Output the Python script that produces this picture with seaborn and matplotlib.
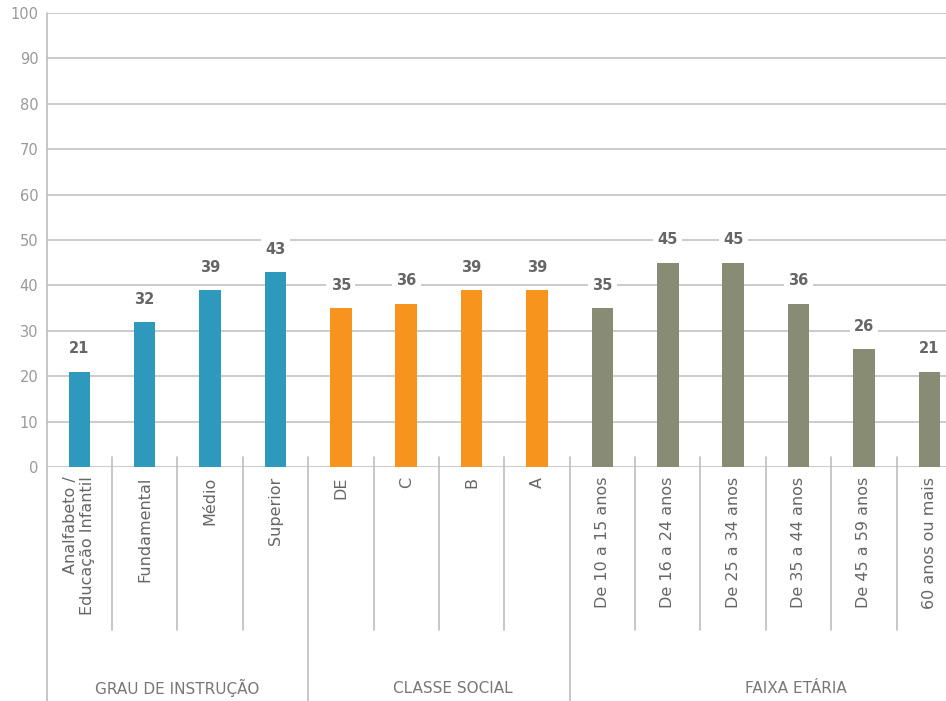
import matplotlib
matplotlib.use("Agg")
import matplotlib.pyplot as plt
from matplotlib.transforms import blended_transform_factory
import pandas as pd
import seaborn as sns

# --- data -------------------------------------------------------------
categories = [
    "Analfabeto /\nEducação Infantil", "Fundamental", "Médio", "Superior",
    "DE", "C", "B", "A",
    "De 10 a 15 anos", "De 16 a 24 anos", "De 25 a 34 anos",
    "De 35 a 44 anos", "De 45 a 59 anos", "60 anos ou mais",
]
values = [21, 32, 39, 43, 35, 36, 39, 39, 35, 45, 45, 36, 26, 21]
group_names = ["GRAU DE INSTRUÇÃO", "CLASSE SOCIAL", "FAIXA ETÁRIA"]
group_sizes = [4, 4, 6]
y_ticks = [0, 10, 20, 30, 40, 50, 60, 70, 80, 90, 100]

groups = [g for g, n in zip(group_names, group_sizes) for _ in range(n)]
df = pd.DataFrame({"categoria": categories, "valor": values, "grupo": groups})

palette = {
    "GRAU DE INSTRUÇÃO": "#2E99BC",
    "CLASSE SOCIAL": "#F7941E",
    "FAIXA ETÁRIA": "#898C75",
}

# --- figure -----------------------------------------------------------
sns.set_style("white")
plt.rcParams["font.family"] = ["DejaVu Sans"]

W, H = 946, 701
fig = plt.figure(figsize=(W / 100, H / 100), dpi=100)
ax_left, ax_right, ax_top, ax_bottom = 46.6, 962.0, 13.0, 467.0
ax = fig.add_axes([ax_left / W, (H - ax_bottom) / H,
                   (ax_right - ax_left) / W, (ax_bottom - ax_top) / H])

sns.barplot(data=df, x="categoria", y="valor", hue="grupo", palette=palette,
            dodge=False, width=0.33, saturation=1, legend=False, ax=ax,
            linewidth=0, edgecolor="none", zorder=2)

ax.set_xlim(-0.5, len(categories) - 0.5)
ax.set_ylim(0, 100)
ax.set_yticks(y_ticks)
ax.yaxis.grid(True, color="#BDBDBD", linewidth=1.1)
ax.set_axisbelow(True)
for s in ax.spines.values():
    s.set_visible(False)

ax.set_xlabel("")
ax.set_ylabel("")
ax.tick_params(axis="y", length=0, pad=6, labelsize=10.5, labelcolor="#999999")
ax.tick_params(axis="x", length=0, pad=7, labelsize=11.5, labelcolor="#666666")
ax.set_xticks(range(len(categories)))
ax.set_xticklabels(categories, rotation=90)
for lab in ax.get_xticklabels():
    lab.set_multialignment("right")

# value labels above each bar
for i, v in enumerate(values):
    ax.text(i, v + 5, f"{v}", ha="center", va="center", fontsize=10.5,
            fontweight="bold", color="#666666", zorder=4,
            bbox=dict(facecolor="white", edgecolor="none", pad=3))

# category / group separators below the axis
trans = blended_transform_factory(ax.transData, ax.transAxes)
sep_color = "#BDBDBD"
boundaries = [0]
for n in group_sizes:
    boundaries.append(boundaries[-1] + n)
for b in range(1, len(categories)):
    x = b - 0.5
    y_end = -0.53 if b in boundaries else -0.359
    ax.plot([x, x], [0.022, y_end], transform=trans, color=sep_color,
            lw=1.2, clip_on=False, zorder=1)
ax.plot([-0.5, -0.5], [1.0, -0.53], transform=trans, color=sep_color,
        lw=1.2, clip_on=False, zorder=1)

# group names
group_label_x = [1.49, 5.72, 10.96]
for name, gx in zip(group_names, group_label_x):
    ax.text(gx, -0.487, name, transform=trans, ha="center", va="center",
            fontsize=11, color="#777777")

fig.savefig("out.png", dpi=100)
